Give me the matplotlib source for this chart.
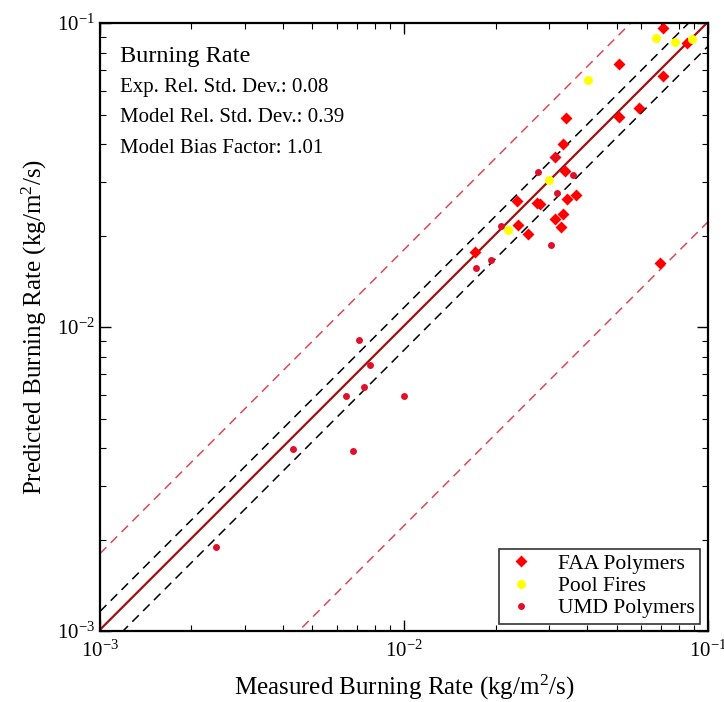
import numpy as np
import matplotlib
matplotlib.use('Agg')
import matplotlib.pyplot as plt

plt.rcParams['font.family'] = ['Liberation Serif', 'DejaVu Serif']
plt.rcParams['mathtext.fontset'] = 'custom'
plt.rcParams['mathtext.rm'] = 'Liberation Serif'
plt.rcParams['mathtext.it'] = 'Liberation Serif:italic'

# FAA Polymers (measured, predicted)
faa_x = [0.0711, 0.0853, 0.0509, 0.0711, 0.0593, 0.0509, 0.0341, 0.0333, 0.0314,
         0.0339, 0.0368, 0.0344, 0.0236, 0.0274, 0.0280, 0.0333, 0.0314, 0.0328,
         0.0237, 0.0256, 0.0171, 0.0695]
faa_y = [0.0963, 0.0859, 0.0733, 0.0670, 0.0525, 0.0491, 0.0487, 0.0400, 0.0362,
         0.0326, 0.0272, 0.0264, 0.0260, 0.0256, 0.0254, 0.0235, 0.0227, 0.0213,
         0.0217, 0.0202, 0.0177, 0.01625]

# Pool Fires
pool_x = [0.0675, 0.0779, 0.0885, 0.0403, 0.0300, 0.0220]
pool_y = [0.0893, 0.0866, 0.0886, 0.0649, 0.0305, 0.0208]

# UMD Polymers
umd_x = [0.0314, 0.0276, 0.0360, 0.0318, 0.0208, 0.0305, 0.0193, 0.0172,
         0.00711, 0.00773, 0.00738, 0.00644, 0.0100, 0.00431, 0.00679, 0.00241]
umd_y = [0.0362, 0.0323, 0.0316, 0.0276, 0.0215, 0.0186, 0.0166, 0.0157,
         0.00906, 0.00750, 0.00635, 0.00593, 0.00593, 0.00397, 0.00391, 0.00189]

sigma_e = 0.08
sigma_m = 0.39
bias = 1.01

fig = plt.figure(figsize=(7.24, 7.02), dpi=100)
ax = fig.add_axes([0.138, 0.101, 0.840, 0.866])

xl = np.array([1e-3, 1e-1])
ax.plot(xl, xl * bias, '-', color='#a01010', lw=1.6)
ax.plot(xl, xl * (1 + 2 * sigma_e), '--', color='k', lw=1.1, dashes=(6, 4))
ax.plot(xl, xl * (1 - 2 * sigma_e), '--', color='k', lw=1.1, dashes=(6, 4))
ax.plot(xl, xl * bias * (1 + 2 * sigma_m), '--', color='#e04858', lw=1.1, dashes=(6, 4))
ax.plot(xl, xl * bias * (1 - 2 * sigma_m), '--', color='#e04858', lw=1.1, dashes=(6, 4))

ax.plot(faa_x, faa_y, 'D', color='#ff0000', ms=6.5, mec='none', label='FAA Polymers')
ax.plot(pool_x, pool_y, 'o', color='#ffff00', ms=6.5, mec='none', label='Pool Fires')
ax.plot(umd_x, umd_y, 'o', color='#e0102a', ms=5, mec='none', label='UMD Polymers')

ax.set_xscale('log')
ax.set_yscale('log')
ax.set_xlim(1e-3, 1e-1)
ax.set_ylim(1e-3, 1e-1)

ax.tick_params(which='both', direction='in', top=True, right=True, labelsize=15)
ax.tick_params(which='major', length=8, width=1)
ax.tick_params(which='minor', length=4.5, width=0.8)
ax.tick_params(axis='x', which='major', pad=7)
for s in ax.spines.values():
    s.set_linewidth(1.6)

ax.set_xlabel('Measured Burning Rate (kg/m$^2$/s)', fontsize=18, labelpad=8)
ax.set_ylabel('Predicted Burning Rate (kg/m$^2$/s)', fontsize=18, labelpad=6)

ax.text(0.033, 0.936, 'Burning Rate', transform=ax.transAxes, fontsize=17.5, va='baseline')
ax.text(0.033, 0.886, 'Exp. Rel. Std. Dev.: 0.08', transform=ax.transAxes, fontsize=15, va='baseline')
ax.text(0.033, 0.837, 'Model Rel. Std. Dev.: 0.39', transform=ax.transAxes, fontsize=15, va='baseline')
ax.text(0.033, 0.786, 'Model Bias Factor: 1.01', transform=ax.transAxes, fontsize=15, va='baseline')

leg = ax.legend(loc='lower right', bbox_to_anchor=(0.987, 0.012), fontsize=15.5,
                fancybox=False, edgecolor='k', handlelength=1.6, handletextpad=0.9,
                borderpad=0.25, labelspacing=0.1, borderaxespad=0)
leg.get_frame().set_linewidth(1.2)

fig.savefig('out.png', dpi=100)
